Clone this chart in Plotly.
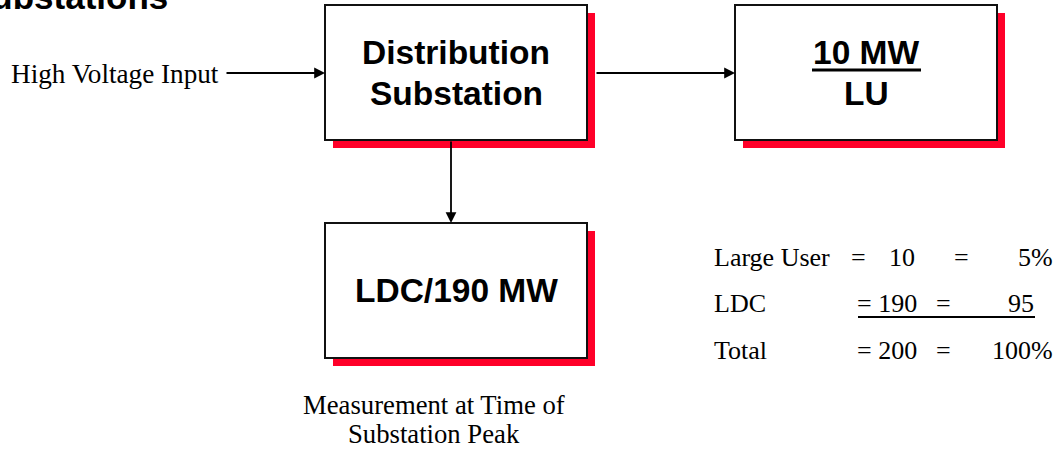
import plotly.graph_objects as go

# ---- data ----
title_text = "Substations"
input_label = "High Voltage Input"
substation_lines = ["Distribution", "Substation"]
large_user_mw = 10
large_user_code = "LU"
ldc_mw = 190
note_lines = ["Measurement at Time of", "Substation Peak"]
row_labels = ["Large User", "LDC", "Total"]
mw_values = [10, 190, 200]
pct_labels = ["5%", "95", "100%"]

W, H = 1059, 452
SERIF = "Liberation Serif, Times New Roman, serif"
SANS = "Liberation Sans, Arial, sans-serif"
RED = "#ff0029"

fig = go.Figure()
fig.add_trace(go.Scatter(x=[0, W], y=[0, H], mode="markers", marker=dict(opacity=0),
                         hoverinfo="skip", showlegend=False))

shapes = []
annots = []

def box(x0, y0, x1, y1, off=8):
    shapes.append(dict(type="rect", x0=x0 + off, y0=y0 + off, x1=x1 + off, y1=y1 + off,
                       fillcolor=RED, line=dict(width=0), layer="above"))
    shapes.append(dict(type="rect", x0=x0, y0=y0, x1=x1, y1=y1,
                       fillcolor="white", line=dict(color="#111", width=2), layer="above"))

box(325, 5, 587, 140)
box(735, 5, 997, 140)
box(325, 223, 587, 358)

def arrow(x0, y0, x1, y1):
    annots.append(dict(x=x1, y=y1, ax=x0, ay=y0, xref="x", yref="y", axref="x", ayref="y",
                       showarrow=True, arrowhead=2, arrowsize=1.2, arrowwidth=1.8,
                       arrowcolor="black", standoff=0, startstandoff=0, text=""))

arrow(225, 73, 325, 73)
arrow(595, 73, 735, 73)
arrow(451, 140, 451, 223)

def txt(x, y, s, size, font=SERIF, xanchor="center", bold=False, yshift=0):
    if bold:
        s = "<b>" + s + "</b>"
    if xanchor == "left":
        x -= 3
    elif xanchor == "right":
        x += 3
    annots.append(dict(x=x, y=y, xref="x", yref="y", text=s, showarrow=False,
                       xanchor=xanchor, yanchor="middle", yshift=yshift,
                       font=dict(family=font, size=size, color="black")))

# caps centre is about 1px below the anchor
txt(167, 0, title_text, 35, SANS, xanchor="right", bold=True, yshift=3.5)
txt(218, 74, input_label, 27.2, SERIF, xanchor="right")
txt(456, 52, substation_lines[0], 33.5, SANS, bold=True)
txt(456, 93, substation_lines[1], 33.5, SANS, bold=True)
txt(866, 52, f"{large_user_mw} MW", 33.5, SANS, bold=True)
shapes.append(dict(type="line", x0=812, x1=921, y0=70, y1=70,
                   line=dict(color="black", width=3), layer="above"))
txt(866, 93, large_user_code, 33.5, SANS, bold=True)
txt(456, 290, f"LDC/{ldc_mw} MW", 33.5, SANS, bold=True)
txt(434, 405, note_lines[0], 26.7, SERIF)
txt(434, 434, note_lines[1], 26.7, SERIF)

row_y = [257, 303, 350]
# row 1
txt(715, row_y[0], row_labels[0], 26, SERIF, xanchor="left")
txt(858, row_y[0], "=", 26, SERIF)
txt(902, row_y[0], str(mw_values[0]), 26, SERIF)
txt(961, row_y[0], "=", 26, SERIF)
txt(1052, row_y[0], pct_labels[0], 26, SERIF, xanchor="right")
# rows 2, 3
for i in (1, 2):
    txt(715, row_y[i], row_labels[i], 26, SERIF, xanchor="left")
    txt(858, row_y[i], f"= {mw_values[i]}", 26, SERIF, xanchor="left")
    txt(943, row_y[i], "=", 26, SERIF)
    txt(1033 if i == 1 else 1052, row_y[i], pct_labels[i], 26, SERIF, xanchor="right")
shapes.append(dict(type="line", x0=858, x1=1035, y0=317, y1=317,
                   line=dict(color="black", width=2), layer="above"))

fig.update_layout(
    width=W, height=H, margin=dict(l=0, r=0, t=0, b=0),
    paper_bgcolor="white", plot_bgcolor="white",
    xaxis=dict(range=[0, W], visible=False, fixedrange=True),
    yaxis=dict(range=[H, 0], visible=False, fixedrange=True),
    shapes=shapes, annotations=annots, showlegend=False,
)
fig.write_html("out.html", config={"displayModeBar": False},
               post_script="document.body.style.margin='0';document.body.style.overflow='hidden';")
